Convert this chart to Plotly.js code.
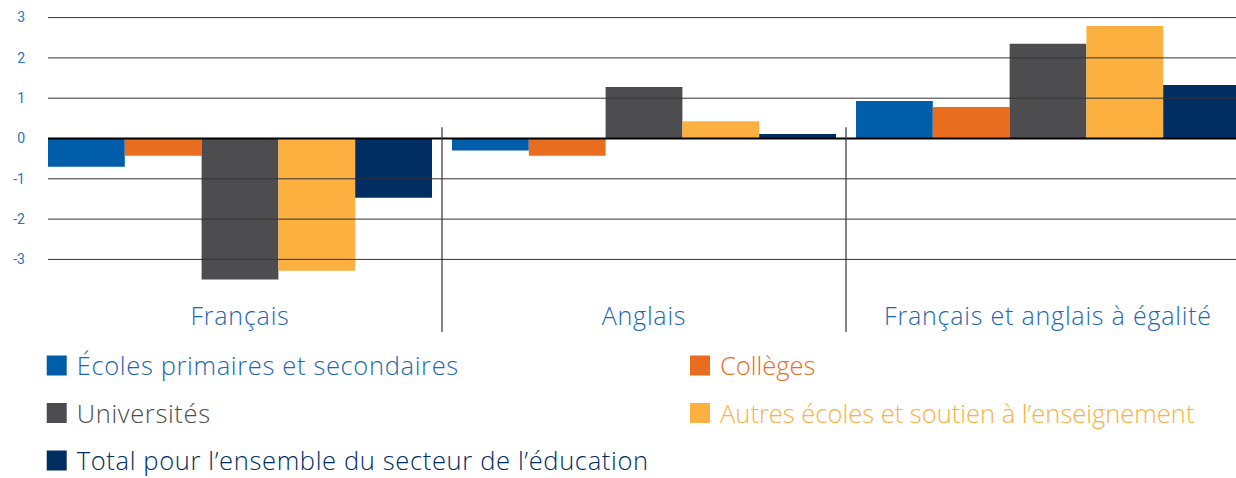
<!DOCTYPE html>
<html>
<head>
<meta charset="utf-8">
<script src="https://cdn.plot.ly/plotly-3.0.1.min.js"></script>
<style>
html,body{margin:0;padding:0;background:#fff;overflow:hidden;}
#chart{width:1236px;height:478px;}
text.legendtext{letter-spacing:0.65px;}
.xtick text{letter-spacing:0.8px;}
</style>
</head>
<body>
<div id="chart"></div>
<script>
// ---- data ----
const categories = ["Français", "Anglais", "Français et anglais à égalité"];
const seriesNames = [
  "Écoles primaires et secondaires",
  "Collèges",
  "Universités",
  "Autres écoles et soutien à l’enseignement",
  "Total pour l’ensemble du secteur de l’éducation"
];
const ecoles       = [-0.70, -0.30, 0.93];
const colleges     = [-0.43, -0.43, 0.78];
const universites  = [-3.50,  1.28, 2.35];
const autres       = [-3.28,  0.43, 2.79];
const total        = [-1.47,  0.11, 1.33];
const yTickVals    = [-3, -2, -1, 0, 1, 2, 3];
const yTickText    = ["-3", "-2", "-1", "0", "1", "2", "3"];

// ---- styles ----
const colors = ["#005DAA", "#E86D1F", "#4D4D4F", "#FBB040", "#002D62"];
const textColors = ["#1B67B2", "#E86D1F", "#4D4D4F", "#FBB040", "#002D62"];
const legendOf = ["legend", "legend2", "legend", "legend2", "legend"];
const values = [ecoles, colleges, universites, autres, total];
const FONT = "'Open Sans', Roboto, Arial, sans-serif";

const traces = [];
values.forEach((v, i) => {
  traces.push({
    type: "bar", x: categories, y: v, name: seriesNames[i],
    marker: {color: colors[i], line: {width: 0}},
    showlegend: false, hoverinfo: "x+y+name"
  });
});
values.forEach((v, i) => {
  traces.push({
    type: "scatter", mode: "markers", x: [null], y: [null],
    name: '<span style="color:' + textColors[i] + '">' + seriesNames[i] + '</span>',
    marker: {symbol: "square", size: 16, color: colors[i], line: {width: 4, color: colors[i]}},
    legend: legendOf[i], legendgroup: "g" + i, showlegend: true, hoverinfo: "skip"
  });
});

const shapes = [];
yTickVals.forEach(t => {
  shapes.push({type: "line", xref: "paper", x0: 0, x1: 1, yref: "y", y0: t, y1: t,
    layer: "above", line: {color: t === 0 ? "#000" : "#333", width: t === 0 ? 2 : 1}});
});
[0.5, 1.5].forEach(s => {
  shapes.push({type: "line", xref: "x", x0: s, x1: s, yref: "paper", y0: -0.152, y1: 0.59,
    layer: "above", line: {color: "#333", width: 1.2}});
});

const legendBase = {
  orientation: "v", xanchor: "left", yanchor: "top", yref: "container", y: 0.2837,
  font: {family: FONT, size: 25.5, weight: 300}, bgcolor: "rgba(0,0,0,0)",
  itemsizing: "trace", traceorder: "grouped", tracegroupgap: 11.35, itemclick: false
};

const layout = {
  width: 1236, height: 478,
  margin: {l: 48, r: 0, t: 14, b: 188, pad: 0, autoexpand: false},
  paper_bgcolor: "#fff", plot_bgcolor: "#fff",
  barmode: "group", bargap: 0.0495, bargroupgap: 0,
  font: {family: FONT},
  xaxis: {
    type: "category", range: [-0.4752, 2.4653], showgrid: false, zeroline: false,
    showline: false, ticks: "", fixedrange: true, ticklabelstandoff: 9,
    tickfont: {family: FONT, size: 25, color: "#1B67B2", weight: 300}
  },
  yaxis: {
    range: [-3.759, 3.089], tickvals: yTickVals, ticktext: yTickText,
    showgrid: false, zeroline: false, showline: false, ticks: "", fixedrange: true,
    ticklabelstandoff: 22,
    tickfont: {family: "Roboto, Arial, sans-serif", size: 14, color: "#2F73B8"}
  },
  shapes: shapes,
  legend: Object.assign({}, legendBase, {x: -0.0095}),
  legend2: Object.assign({}, legendBase, {x: 0.532}),
  showlegend: true
};

Plotly.newPlot("chart", traces, layout, {displayModeBar: false, staticPlot: true});
</script>
</body>
</html>
